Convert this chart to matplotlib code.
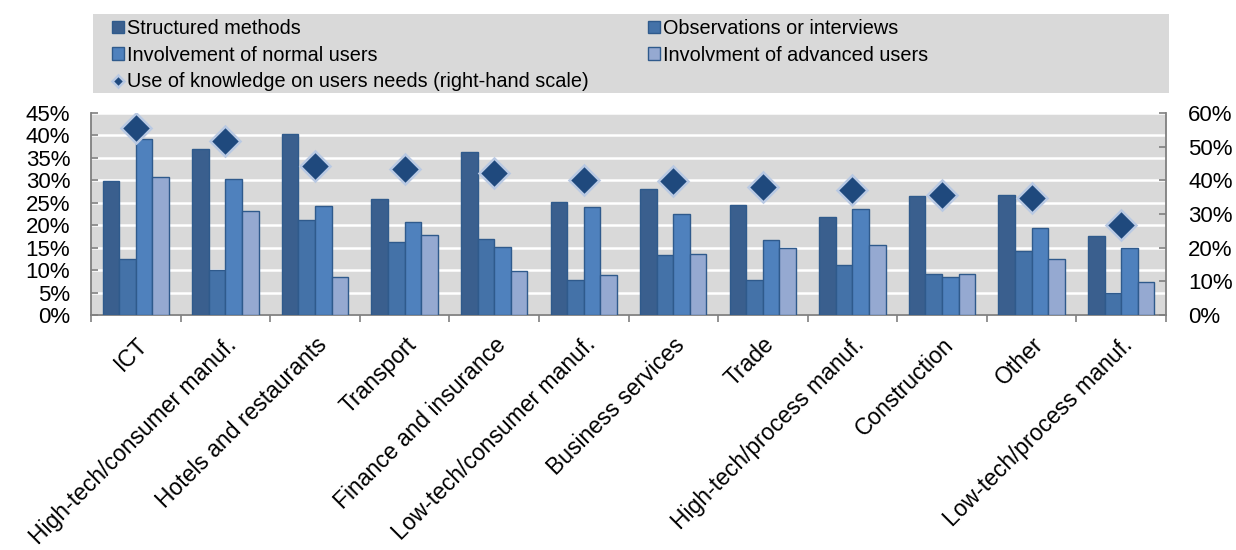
import numpy as np
import matplotlib
matplotlib.use('Agg')
import matplotlib.pyplot as plt
from matplotlib.patches import Rectangle
from matplotlib.ticker import PercentFormatter

plt.rcParams['font.family'] = ['Liberation Sans', 'DejaVu Sans']

# Data (percent)
categories = ['ICT', 'High-tech/consumer manuf.', 'Hotels and restaurants', 'Transport',
              'Finance and insurance', 'Low-tech/consumer manuf.', 'Business services',
              'Trade', 'High-tech/process manuf.', 'Construction', 'Other',
              'Low-tech/process manuf.']
structured = [29.9, 37.0, 40.4, 25.9, 36.3, 25.1, 28.1, 24.5, 21.8, 26.4, 26.7, 17.7]
observations = [12.5, 10.0, 21.2, 16.2, 17.0, 7.8, 13.4, 7.7, 11.2, 9.1, 14.3, 4.8]
normal_users = [39.2, 30.2, 24.3, 20.8, 15.1, 24.1, 22.5, 16.6, 23.7, 8.5, 19.4, 14.9]
advanced_users = [30.8, 23.2, 8.5, 17.9, 9.9, 9.0, 13.7, 14.9, 15.7, 9.1, 12.5, 7.3]
knowledge = [55.6, 51.6, 44.3, 43.4, 42.2, 40.2, 39.7, 37.9, 37.2, 35.7, 34.7, 26.8]

series = [
    ('Structured methods', structured, '#3A5F8E'),
    ('Observations or interviews', observations, '#4472A8'),
    ('Involvement of normal users', normal_users, '#4F81BD'),
    ('Involvment of advanced users', advanced_users, '#95A9D1'),
]

W, H = 1236, 550
fig = plt.figure(figsize=(W / 100, H / 100), dpi=100)
ax = fig.add_axes([91 / W, 1 - 315 / H, (1166 - 91) / W, (315 - 113) / H])
ax.set_facecolor('#D9D9D9')

x = np.arange(len(categories))
width = 0.185
handles = {}
for i, (name, vals, col) in enumerate(series):
    b = ax.bar(x + (i - 1.5) * width, vals, width, color=col, edgecolor='#2F5A8C',
               linewidth=1.0, label=name, zorder=3)
    handles[name] = b

ax.set_ylim(0, 45)
ax.set_yticks(np.arange(0, 46, 5))
ax.yaxis.set_major_formatter(PercentFormatter(decimals=0))
ax.grid(axis='y', color='white', linewidth=1.8, zorder=0)
ax.set_axisbelow(True)
ax.set_xlim(-0.5, len(categories) - 0.5)
ax.set_xticks(np.arange(len(categories) + 1) - 0.5)
ax.set_xticklabels([])
ax.set_xticks(x, minor=True)
ax.set_xticklabels(categories, minor=True, rotation=45, ha='right',
                   rotation_mode='anchor', fontsize=16.5)
ax.tick_params(axis='x', which='minor', length=0, pad=13)
ax.tick_params(axis='x', which='major', length=5, color='#808080', width=1.2)
ax.tick_params(axis='y', labelsize=16, direction='in', length=5, color='#808080',
               width=1.2, pad=15)

for s in ['top', 'right']:
    ax.spines[s].set_visible(False)
for s in ['left', 'bottom']:
    ax.spines[s].set_color('#808080')
    ax.spines[s].set_linewidth(1.3)

ax2 = ax.twinx()
ax2.set_ylim(0, 60)
ax2.set_yticks(np.arange(0, 61, 10))
ax2.yaxis.set_major_formatter(PercentFormatter(decimals=0))
ax2.tick_params(axis='y', labelsize=16, direction='in', length=5, color='#808080',
                width=1.2, pad=16)
for s in ['top', 'left', 'bottom']:
    ax2.spines[s].set_visible(False)
ax2.spines['right'].set_color('#808080')
ax2.spines['right'].set_linewidth(1.3)
dm, = ax2.plot(x, knowledge, linestyle='none', marker='D', markersize=15,
               markerfacecolor='#1F497D', markeredgecolor='#B9C9E3',
               markeredgewidth=1.8, zorder=5,
               label='Use of knowledge on users needs (right-hand scale)')

# legend background box
fig.patches.append(Rectangle((93 / W, 1 - 93 / H), (1169 - 93) / W, 79 / H,
                             transform=fig.transFigure, facecolor='#D9D9D9',
                             edgecolor='none', zorder=0))

# legend, column-major ordering for 3 rows x 2 columns
leg_handles = [handles['Structured methods'], handles['Involvement of normal users'], dm,
               handles['Observations or interviews'], handles['Involvment of advanced users']]
leg_labels = ['Structured methods', 'Involvement of normal users',
              'Use of knowledge on users needs (right-hand scale)',
              'Observations or interviews', 'Involvment of advanced users']
leg = fig.legend(leg_handles, leg_labels, ncol=2, loc='upper left',
                 bbox_to_anchor=(109 / W, 1 - 16 / H),
                 frameon=False, fontsize=14.3, handlelength=0.6, handleheight=0.6,
                 handletextpad=0.15, labelspacing=0.39, borderpad=0.15, borderaxespad=0,
                 columnspacing=3.0)
leg.legend_handles[2].set_markersize(6)

fig.savefig('out.png', dpi=100)
